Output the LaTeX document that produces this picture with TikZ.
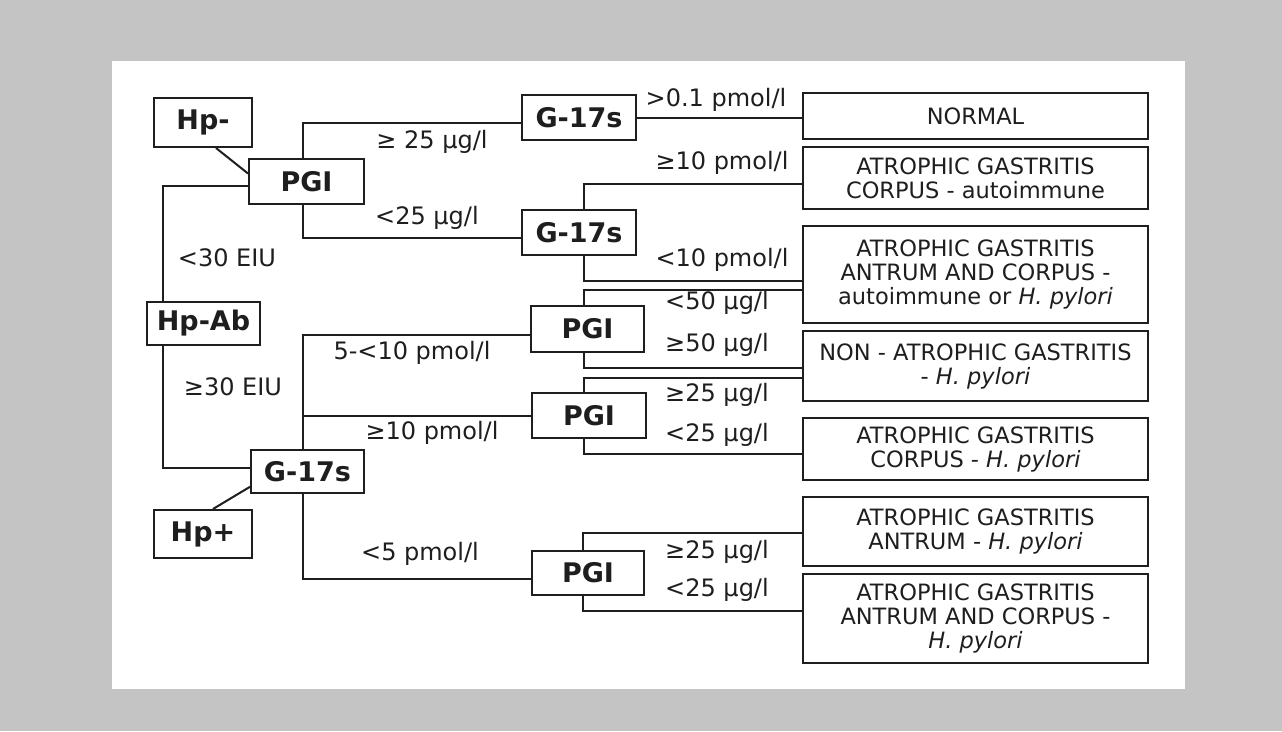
\documentclass[tikz,border=0pt]{standalone}
\usepackage{fontspec}
\setmainfont{DejaVu Sans}
\usetikzlibrary{calc}
\definecolor{bggray}{RGB}{196,196,196}
\definecolor{ink}{RGB}{30,30,30}
\begin{document}
\begin{tikzpicture}[x=1pt,y=-1pt,
  box/.style={draw=ink, line width=2pt, fill=white, anchor=north west, inner sep=1pt, align=center, text=ink, font=\fontsize{22.5}{24}\selectfont},
  test/.style={draw=ink, line width=2pt, fill=white, anchor=north west, inner sep=0pt, text=ink, font=\fontsize{27}{29}\selectfont\bfseries},
  lab/.style={font=\fontsize{24}{26}\selectfont, inner sep=0pt, text=ink},
  conn/.style={draw=ink, line width=2pt}]
\useasboundingbox (0,0) rectangle (1282,731);
\fill[bggray] (0,0) rectangle (1282,731);
\fill[white] (112,61) rectangle (1185,689);

% test nodes
\node[test, minimum width=98pt, minimum height=49pt] (hpm) at (153,97) {Hp-};
\node[test, minimum width=115pt, minimum height=45pt] (pgi0) at (248,158) {PGI};
\node[test, minimum width=113pt, minimum height=43pt] (hpab) at (146,301) {Hp-Ab};
\node[test, minimum width=113pt, minimum height=43pt] (g0) at (250,449) {G-17s};
\node[test, minimum width=98pt, minimum height=48pt] (hpp) at (153,509) {Hp+};
\node[test, minimum width=114pt, minimum height=45pt] (ga) at (521,94) {G-17s};
\node[test, minimum width=114pt, minimum height=45pt] (gb) at (521,209) {G-17s};
\node[test, minimum width=113pt, minimum height=46pt] (p1) at (530,305) {PGI};
\node[test, minimum width=114pt, minimum height=45pt] (p2) at (531,392) {PGI};
\node[test, minimum width=112pt, minimum height=44pt] (p3) at (531,550) {PGI};

% result boxes
\node[box, minimum width=345pt, minimum height=46pt] (r1) at (802,92) {NORMAL};
\node[box, minimum width=345pt, minimum height=62pt] (r2) at (802,146) {ATROPHIC GASTRITIS\\CORPUS - autoimmune};
\node[box, minimum width=345pt, minimum height=97pt] (r3) at (802,225) {ATROPHIC GASTRITIS\\ANTRUM AND CORPUS -\\autoimmune or \textit{H. pylori}};
\node[box, minimum width=345pt, minimum height=70pt] (r4) at (802,330) {NON - ATROPHIC GASTRITIS\\- \textit{H. pylori}};
\node[box, minimum width=345pt, minimum height=62pt] (r5) at (802,417) {ATROPHIC GASTRITIS\\CORPUS - \textit{H. pylori}};
\node[box, minimum width=345pt, minimum height=69pt] (r6) at (802,496) {ATROPHIC GASTRITIS\\ANTRUM - \textit{H. pylori}};
\node[box, minimum width=345pt, minimum height=89pt] (r7) at (802,573) {ATROPHIC GASTRITIS\\ANTRUM AND CORPUS -\\\textit{H. pylori}};

% connectors
\draw[conn] ($(hpm.south west)!0.63!(hpm.south east)$) -- ($(pgi0.north west)!0.33!(pgi0.south west)$);
\draw[conn] ($(pgi0.north west)!0.6!(pgi0.south west)$) -| ($(hpab.north west)!0.15!(hpab.north east)$);
\draw[conn] ($(hpab.south west)!0.15!(hpab.south east)$) |- ($(g0.north west)!0.42!(g0.south west)$);
\draw[conn] ($(g0.north west)!0.84!(g0.south west)$) -- ($(hpp.north west)!0.6!(hpp.north east)$);

\draw[conn] ($(pgi0.north west)!0.47!(pgi0.north east)$) |- ($(ga.north west)!0.62!(ga.south west)$);
\draw[conn] ($(pgi0.south west)!0.47!(pgi0.south east)$) |- ($(gb.north west)!0.62!(gb.south west)$);
\draw[conn] (ga.east) -- (ga.east -| r1.west);
\draw[conn] ($(gb.north west)!0.54!(gb.north east)$) |- ($(r2.north west)!0.6!(r2.south west)$);
\draw[conn] ($(gb.south west)!0.54!(gb.south east)$) |- ($(r3.north west)!0.57!(r3.south west)$);

\draw[conn] ($(g0.north west)!0.46!(g0.north east)$) |- ($(p1.north west)!0.63!(p1.south west)$);
\draw[conn] ($(g0.north west)!0.46!(g0.north east)$) |- (p2.west);
\draw[conn] ($(g0.south west)!0.46!(g0.south east)$) |- ($(p3.north west)!0.64!(p3.south west)$);

\draw[conn] ($(p1.north west)!0.47!(p1.north east)$) |- ($(r3.north west)!0.66!(r3.south west)$);
\draw[conn] ($(p1.south west)!0.47!(p1.south east)$) |- ($(r4.north west)!0.53!(r4.south west)$);
\draw[conn] ($(p2.north west)!0.46!(p2.north east)$) |- ($(r4.north west)!0.67!(r4.south west)$);
\draw[conn] ($(p2.south west)!0.46!(p2.south east)$) |- ($(r5.north west)!0.58!(r5.south west)$);
\draw[conn] ($(p3.north west)!0.46!(p3.north east)$) |- ($(r6.north west)!0.52!(r6.south west)$);
\draw[conn] ($(p3.south west)!0.46!(p3.south east)$) |- ($(r7.north west)!0.42!(r7.south west)$);

% labels
\node[lab] (la) at (432,142) {≥ 25 µg/l};
\node[lab] (lb) at (427,218) {<25 µg/l};
\node[lab] (lc) at (227,258) {<30 EIU};
\node[lab] (ld) at (233,387) {≥30 EIU};
\node[lab] (le) at (716,100) {>0.1 pmol/l};
\node[lab] (lf) at (722,163) {≥10 pmol/l};
\node[lab] (lg) at (722,260) {<10 pmol/l};
\node[lab] (lh) at (412,353) {5-<10 pmol/l};
\node[lab] (li) at (432,433) {≥10 pmol/l};
\node[lab] (lj) at (420,554) {<5 pmol/l};
\node[lab] (lk) at (717,303) {<50 µg/l};
\node[lab] (ll) at (717,345) {≥50 µg/l};
\node[lab] (lm) at (717,395) {≥25 µg/l};
\node[lab] (ln) at (717,435) {<25 µg/l};
\node[lab] (lo) at (717,552) {≥25 µg/l};
\node[lab] (lp) at (717,590) {<25 µg/l};
\end{tikzpicture}
\end{document}
